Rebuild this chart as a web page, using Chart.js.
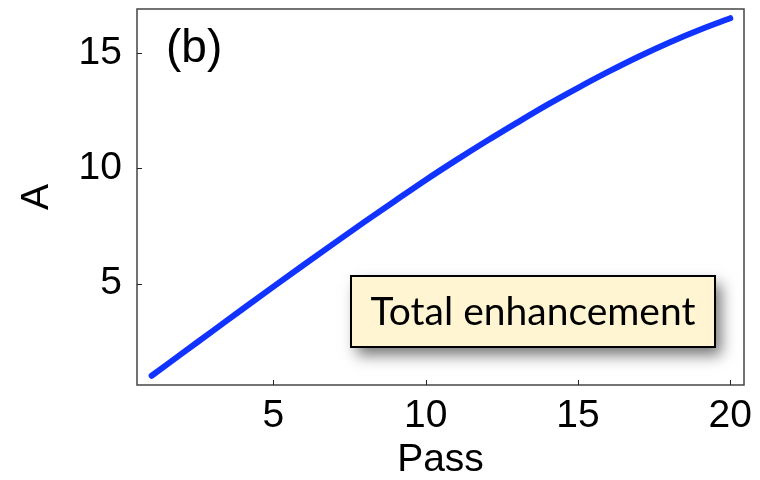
<!DOCTYPE html>
<html>
<head>
<meta charset="utf-8">
<script src="https://cdn.jsdelivr.net/npm/chart.js@4/dist/chart.umd.min.js"></script>
<style>
  html, body { margin: 0; padding: 0; background: #fff; }
  #wrap { width: 760px; height: 480px; }
</style>
</head>
<body>
<div id="wrap"><canvas id="c" width="760" height="480"></canvas></div>
<script>
// Enhancement after each pass
const passes = [1, 2, 3, 4, 5, 6, 7, 8, 9, 10, 11, 12, 13, 14, 15, 16, 17, 18, 19, 20];
const enhancement = [1.0, 1.97, 2.94, 3.91, 4.87, 5.82, 6.76, 7.69, 8.60, 9.50,
                     10.36, 11.19, 11.99, 12.77, 13.50, 14.20, 14.86, 15.47, 16.02, 16.52];
const xTicks = [5, 10, 15, 20];
const yTicks = [5, 10, 15];
const panelLabel = '(b)';
const boxLabel = 'Total enhancement';

const numFont = '"Liberation Sans", Arial, Helvetica, sans-serif';

// Frame, inward tick marks, panel tag and the labelled box
const decorations = {
  id: 'decorations',
  afterDraw(chart) {
    const { ctx, chartArea: a, scales: { x, y } } = chart;
    ctx.save();
    // frame
    ctx.strokeStyle = '#444';
    ctx.lineWidth = 1.5;
    ctx.strokeRect(a.left, a.top, a.right - a.left, a.bottom - a.top);
    // inward ticks
    ctx.strokeStyle = '#222';
    ctx.lineWidth = 1;
    xTicks.forEach(v => {
      const px = Math.round(x.getPixelForValue(v)) + 0.5;
      ctx.beginPath(); ctx.moveTo(px, a.bottom); ctx.lineTo(px, a.bottom - 5); ctx.stroke();
    });
    yTicks.forEach(v => {
      const py = Math.round(y.getPixelForValue(v)) + 0.5;
      ctx.beginPath(); ctx.moveTo(a.left, py); ctx.lineTo(a.left + 5, py); ctx.stroke();
    });
    // panel tag
    ctx.fillStyle = '#000';
    ctx.font = '46px ' + numFont;
    ctx.textAlign = 'left';
    ctx.textBaseline = 'middle';
    ctx.fillText(panelLabel, a.left + 29, a.top + 40);
    // label box with soft drop shadow
    const bx = a.left + 214, by = a.top + 267, bw = 364, bh = 71;
    ctx.save();
    ctx.shadowColor = 'rgba(0,0,0,0.55)';
    ctx.shadowBlur = 14;
    ctx.shadowOffsetX = 6;
    ctx.shadowOffsetY = 8;
    ctx.fillStyle = '#FFF5D2';
    ctx.fillRect(bx, by, bw, bh);
    ctx.restore();
    ctx.strokeStyle = '#000';
    ctx.lineWidth = 2;
    ctx.strokeRect(bx, by, bw, bh);
    ctx.fillStyle = '#000';
    ctx.font = '39px Lato, "Open Sans", sans-serif';
    ctx.textAlign = 'center';
    ctx.fillText(boxLabel, bx + bw / 2, by + bh / 2 + 1);
    ctx.restore();
  }
};

new Chart(document.getElementById('c'), {
  type: 'line',
  data: {
    datasets: [{
      data: passes.map((p, i) => ({ x: p, y: enhancement[i] })),
      borderColor: '#1133FF',
      borderWidth: 6,
      borderCapStyle: 'round',
      borderJoinStyle: 'round',
      pointRadius: 0,
      cubicInterpolationMode: 'monotone',
      fill: false
    }]
  },
  options: {
    responsive: false,
    animation: false,
    devicePixelRatio: 1,
    layout: { padding: { left: 0, right: 16, top: 9, bottom: 0 } },
    plugins: { legend: { display: false }, tooltip: { enabled: false } },
    scales: {
      x: {
        type: 'linear',
        min: 0.52,
        max: 20.45,
        afterBuildTicks: s => { s.ticks = xTicks.map(v => ({ value: v })); },
        afterFit: s => { s.height = 95; s.paddingLeft = 0; s.paddingRight = 0; },
        grid: { display: false, drawTicks: false },
        border: { display: false },
        ticks: { color: '#000', font: { family: numFont, size: 39 }, padding: 8, maxRotation: 0 },
        title: { display: true, text: 'Pass', color: '#000', font: { family: numFont, size: 39, lineHeight: 1.0 }, padding: { top: 0, bottom: 0 } }
      },
      y: {
        type: 'linear',
        min: 0.6,
        max: 16.92,
        afterBuildTicks: s => { s.ticks = yTicks.map(v => ({ value: v })); },
        afterFit: s => { s.width = 137; s.paddingTop = 0; s.paddingBottom = 0; },
        grid: { display: false, drawTicks: false },
        border: { display: false },
        ticks: { color: '#000', font: { family: numFont, size: 39 }, padding: 15 },
        title: { display: true, text: 'A', color: '#000', font: { family: numFont, size: 39, lineHeight: 1.0 }, padding: { top: 18, bottom: 0 } }
      }
    }
  },
  plugins: [decorations]
});
</script>
</body>
</html>
